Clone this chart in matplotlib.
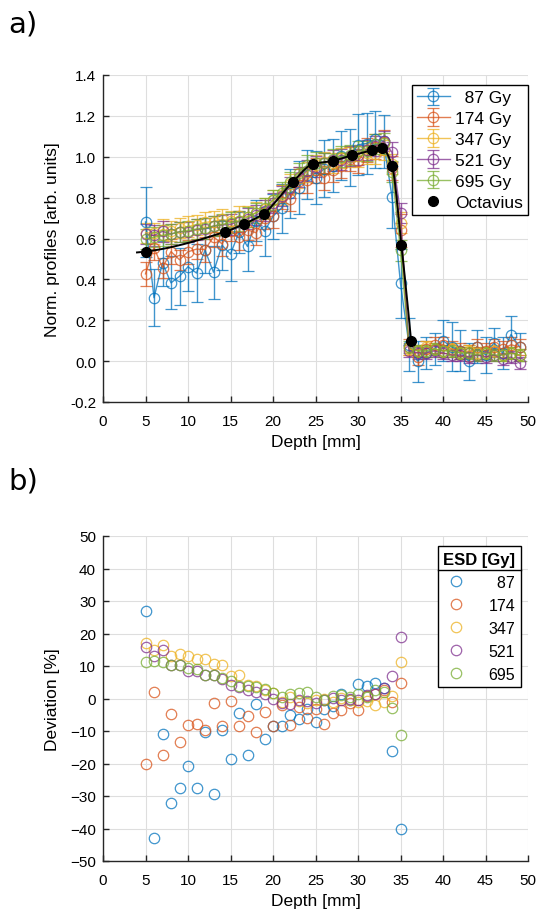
import numpy as np
import matplotlib
matplotlib.use("Agg")
import matplotlib.pyplot as plt
from matplotlib.lines import Line2D

plt.rcParams['font.family'] = ['Liberation Sans', 'DejaVu Sans']

# ---------------- data ----------------
depth = list(range(5, 50))          # 5 .. 49 mm
dev_depth = list(range(5, 36))      # 5 .. 35 mm

doses = ['87', '174', '347', '521', '695']

prof_87 = [0.681, 0.310, 0.480, 0.383, 0.415, 0.462, 0.431, 0.543, 0.435, 0.567,
           0.524, 0.630, 0.561, 0.688, 0.635, 0.709, 0.749, 0.821, 0.848, 0.911,
           0.897, 0.942, 0.956, 1.004, 0.998, 1.059, 1.064, 1.085, 1.076, 0.803,
           0.380,
           0.08, 0.00, 0.04, 0.06, 0.10, 0.07, 0.05, 0.00, 0.07, 0.03, 0.09, 0.04, 0.13, 0.07]
prof_174 = [0.427, 0.555, 0.457, 0.536, 0.496, 0.535, 0.548, 0.546, 0.608, 0.574,
            0.637, 0.605, 0.642, 0.628, 0.698, 0.710, 0.804, 0.793, 0.882, 0.885,
            0.934, 0.897, 0.937, 0.956, 0.988, 0.979, 1.032, 1.049, 1.071, 0.946,
            0.640,
            0.07, 0.02, 0.06, 0.08, 0.08, 0.06, 0.05, 0.04, 0.07, 0.05, 0.07, 0.06, 0.08, 0.07]
prof_347 = [0.628, 0.625, 0.644, 0.637, 0.652, 0.659, 0.666, 0.679, 0.683, 0.693,
            0.687, 0.708, 0.707, 0.727, 0.746, 0.787, 0.812, 0.868, 0.898, 0.926,
            0.961, 0.972, 0.970, 0.994, 0.998, 1.002, 1.016, 1.015, 1.034, 0.964,
            0.678,
            0.06, 0.05, 0.07, 0.06, 0.05, 0.06, 0.04, 0.05, 0.04, 0.04, 0.05, 0.03, 0.04, 0.03]
prof_521 = [0.621, 0.615, 0.635, 0.622, 0.633, 0.633, 0.644, 0.648, 0.661, 0.666,
            0.669, 0.683, 0.697, 0.714, 0.736, 0.773, 0.808, 0.849, 0.900, 0.932,
            0.952, 0.967, 0.982, 0.986, 1.003, 1.009, 1.034, 1.052, 1.076, 1.022,
            0.725,
            0.05, 0.04, 0.04, 0.05, 0.04, 0.03, 0.03, 0.02, 0.03, 0.02, 0.03, 0.01, 0.02, -0.01]
prof_695 = [0.597, 0.607, 0.615, 0.622, 0.633, 0.638, 0.647, 0.649, 0.661, 0.668,
            0.678, 0.685, 0.705, 0.725, 0.748, 0.789, 0.825, 0.877, 0.921, 0.959,
            0.971, 0.967, 0.988, 1.001, 1.008, 1.029, 1.029, 1.062, 1.065, 0.927,
            0.542,
            0.07, 0.05, 0.05, 0.06, 0.05, 0.05, 0.04, 0.04, 0.03, 0.04, 0.03, 0.03, 0.04, 0.03]

err_87 = [0.17, 0.14, 0.11, 0.13, 0.14, 0.12, 0.14, 0.11, 0.13, 0.12,
          0.13, 0.10, 0.12, 0.10, 0.12, 0.11, 0.12, 0.12, 0.13, 0.12,
          0.13, 0.14, 0.13, 0.12, 0.14, 0.15, 0.15, 0.14, 0.13, 0.15,
          0.17,
          0.13, 0.10, 0.08, 0.08, 0.10, 0.12, 0.10, 0.09, 0.08, 0.09, 0.07, 0.08, 0.09, 0.07]
err_174 = [0.06, 0.06, 0.05, 0.06, 0.05, 0.06, 0.05, 0.06, 0.05, 0.06,
           0.05, 0.06, 0.05, 0.06, 0.05, 0.06, 0.06, 0.06, 0.06, 0.06,
           0.06, 0.06, 0.06, 0.06, 0.06, 0.06, 0.06, 0.06, 0.06, 0.06,
           0.08,
           0.04, 0.04, 0.04, 0.04, 0.04, 0.04, 0.04, 0.04, 0.04, 0.04, 0.04, 0.04, 0.04, 0.04]
err_347 = [0.05] * 31 + [0.03] * 14
err_521 = [0.05] * 31 + [0.03] * 14
err_695 = [0.05] * 31 + [0.03] * 14

dev_87 = [27.0, -43.0, -11.0, -32.0, -27.5, -20.7, -27.5, -10.3, -29.5, -9.7,
          -18.5, -4.6, -17.4, -1.7, -12.6, -8.5, -8.6, -5.0, -6.3, -3.1,
          -7.1, -3.1, -2.4, 1.3, -0.5, 4.4, 3.9, 4.7, 3.1, -16.0, -40.0]
dev_174 = [-20.3, 2.1, -17.3, -4.8, -13.4, -8.2, -7.7, -9.7, -1.5, -8.6,
           -0.9, -8.4, -5.5, -10.3, -4.0, -8.4, -2.0, -8.2, -2.5, -5.9,
           -3.3, -7.7, -4.4, -3.5, -1.5, -3.5, 0.8, 1.3, 2.6, -1.0, 4.9]
dev_347 = [17.1, 14.9, 16.4, 13.1, 13.8, 13.1, 12.1, 12.2, 10.7, 10.3,
           6.9, 7.2, 4.1, 3.8, 2.6, 1.6, -1.0, 0.5, -0.8, -1.5,
           -0.5, 0.0, -1.0, 0.3, -0.5, -1.2, -0.8, -2.0, -1.0, 0.8, 11.2]
dev_521 = [15.9, 13.1, 14.9, 10.4, 10.4, 8.5, 8.5, 7.1, 7.1, 6.1,
           4.1, 3.5, 2.6, 2.0, 1.3, -0.2, -1.5, -1.7, -0.5, -0.9,
           -1.5, -0.5, 0.2, -0.5, 0.0, -0.5, 1.0, 1.5, 3.1, 6.9, 18.8]
dev_695 = [11.3, 11.6, 11.2, 10.4, 10.4, 9.5, 9.0, 7.2, 7.2, 6.4,
           5.4, 3.8, 3.8, 3.5, 2.9, 1.8, 0.6, 1.5, 1.8, 2.0,
           0.5, -0.5, 0.8, 1.0, 0.5, 1.5, 0.5, 2.5, 2.0, -3.0, -11.1]

oct_depth = [5.0, 14.3, 16.6, 18.9, 22.3, 24.7, 27.0, 29.3, 31.6, 32.8, 34.0, 35.1, 36.25]
oct_value = [0.536, 0.632, 0.671, 0.722, 0.876, 0.964, 0.980, 1.007, 1.031, 1.044, 0.956, 0.570, 0.098]

profiles = [prof_87, prof_174, prof_347, prof_521, prof_695]
errors = [err_87, err_174, err_347, err_521, err_695]
deviations = [dev_87, dev_174, dev_347, dev_521, dev_695]

colors = ['#0072BD', '#D95319', '#EDB120', '#7E2F8E', '#77AC30']


def pchip(x, y, xi):
    x = np.asarray(x, float); y = np.asarray(y, float); xi = np.asarray(xi, float)
    n = len(x)
    h = np.diff(x)
    delta = np.diff(y) / h
    d = np.zeros(n)
    for k in range(1, n - 1):
        if delta[k - 1] * delta[k] > 0:
            w1 = 2 * h[k] + h[k - 1]
            w2 = h[k] + 2 * h[k - 1]
            d[k] = (w1 + w2) / (w1 / delta[k - 1] + w2 / delta[k])
    def endslope(h0, h1, d0, d1):
        s = ((2 * h0 + h1) * d0 - h0 * d1) / (h0 + h1)
        if np.sign(s) != np.sign(d0):
            s = 0.0
        elif np.sign(d0) != np.sign(d1) and abs(s) > abs(3 * d0):
            s = 3 * d0
        return s
    d[0] = endslope(h[0], h[1], delta[0], delta[1])
    d[-1] = endslope(h[-1], h[-2], delta[-1], delta[-2])
    idx = np.clip(np.searchsorted(x, xi) - 1, 0, n - 2)
    t = (xi - x[idx]) / h[idx]
    h00 = 2 * t**3 - 3 * t**2 + 1
    h10 = t**3 - 2 * t**2 + t
    h01 = -2 * t**3 + 3 * t**2
    h11 = t**3 - t**2
    return (h00 * y[idx] + h10 * h[idx] * d[idx] + h01 * y[idx + 1] + h11 * h[idx] * d[idx + 1])


fig = plt.figure(figsize=(5.38, 9.2), dpi=100)

ax1 = fig.add_axes([103 / 538, 1 - 403 / 920, 425 / 538, 327 / 920])
ax2 = fig.add_axes([103 / 538, 1 - 862 / 920, 425 / 538, 325 / 920])

grid_kw = dict(color='#dedede', linewidth=0.8)

# ---------- top panel ----------
eb_handles = []
for dose, prof, err, col in zip(doses, profiles, errors, colors):
    lab = ('\u2007' * (3 - len(dose))) + dose + ' Gy'
    h = ax1.errorbar(depth, prof, yerr=err, color=col, marker='o', markersize=7.5,
                     markerfacecolor='none', markeredgewidth=0.9, linewidth=1.0,
                     elinewidth=1.0, capsize=4, capthick=1.0, alpha=0.75, label=lab)
    eb_handles.append(h)

xs = np.linspace(4.0, 36.25, 300)
ax1.plot(xs, pchip(oct_depth, oct_value, xs), color='black', linewidth=1.4, zorder=5)
oct_h, = ax1.plot(oct_depth, oct_value, linestyle='none', marker='o', markersize=7,
                  color='black', zorder=6, label='Octavius')

ax1.set_xlim(0, 50)
ax1.set_ylim(-0.2, 1.4)
ax1.set_xticks(np.arange(0, 51, 5))
ax1.set_yticks(np.arange(-0.2, 1.41, 0.2))
ax1.set_yticklabels([f'{v:.1f}' for v in np.arange(-0.2, 1.41, 0.2)])
ax1.set_xlabel('Depth [mm]', fontsize=12.5, labelpad=4)
ax1.set_ylabel('Norm. profiles [arb. units]', fontsize=12.5, labelpad=7)
handles = eb_handles + [oct_h]
labels = [h.get_label() for h in handles]
leg1 = ax1.legend(handles, labels, loc='upper right',
                  bbox_to_anchor=(1.0, 1 - 10 / 327), borderaxespad=0,
                  fontsize=12.5, frameon=True, fancybox=False,
                  edgecolor='black', framealpha=1,
                  handlelength=1.9, labelspacing=0.33, borderpad=0.3, handletextpad=0.3)
leg1.get_frame().set_linewidth(1.0)

# ---------- bottom panel ----------
for dose, dev, col in zip(doses, deviations, colors):
    lab = ('\u2007' * (3 - len(dose))) + dose
    ax2.plot(dev_depth, dev, linestyle='none', marker='o', markersize=7.5,
             markerfacecolor='none', markeredgecolor=col, markeredgewidth=0.9,
             alpha=0.75, label=lab)

ax2.set_xlim(0, 50)
ax2.set_ylim(-50, 50)
ax2.set_xticks(np.arange(0, 51, 5))
ax2.set_yticks(np.arange(-50, 51, 10))
ax2.set_xlabel('Depth [mm]', fontsize=12.5, labelpad=4)
ax2.set_ylabel('Deviation [%]', fontsize=12.5, labelpad=7)
leg2 = ax2.legend(loc='upper right', bbox_to_anchor=(418 / 425, 1 - 10 / 325),
                  borderaxespad=0, fontsize=11.5, frameon=True, fancybox=False,
                  edgecolor='black', framealpha=1,
                  handlelength=1.5, labelspacing=0.5, borderpad=0.35,
                  handletextpad=1.3, title='ESD [Gy]',
                  title_fontproperties={'weight': 'bold', 'size': 12})
leg2.get_frame().set_linewidth(1.0)

for ax in (ax1, ax2):
    ax.grid(True, **grid_kw)
    ax.set_axisbelow(True)
    ax.spines['top'].set_visible(False)
    ax.spines['right'].set_visible(False)
    for s in ('left', 'bottom'):
        ax.spines[s].set_color('#262626')
        ax.spines[s].set_linewidth(1.0)
    ax.tick_params(direction='in', length=4, width=1.0, color='#262626',
                   labelsize=11)
    ax.tick_params(axis='x', pad=9)
    ax.tick_params(axis='y', pad=5)

fig.text(0.016, 1 - 24 / 920, 'a)', fontsize=21, family='DejaVu Sans', va='center', ha='left')
fig.text(0.016, 1 - 482 / 920, 'b)', fontsize=21, family='DejaVu Sans', va='center', ha='left')

# separator line under legend title
fig.canvas.draw()
fb = leg2.get_frame().get_window_extent()
tb = leg2.get_title().get_window_extent()
ysep = tb.y0 - 3
inv = fig.transFigure.inverted()
(x0, y0), (x1, _) = inv.transform([(fb.x0, ysep), (fb.x1, ysep)])
fig.add_artist(Line2D([x0, x1], [y0, y0], color='black', linewidth=1.0))

fig.savefig('out.png', dpi=100)
